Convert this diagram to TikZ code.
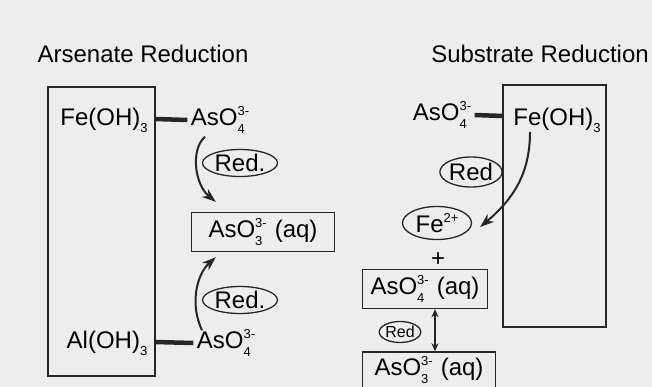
\documentclass[tikz,border=0pt]{standalone}
\usepackage{fontspec}
\setmainfont{Liberation Sans}
\usetikzlibrary{shapes.geometric,arrows.meta}
\newcommand{\subsup}[2]{\rlap{\raisebox{-0.3em}{\fontsize{13}{13}\selectfont#1}}\raisebox{0.42em}{\fontsize{13}{13}\selectfont#2}}
\newcommand{\sbs}[1]{\raisebox{-0.3em}{\fontsize{13}{13}\selectfont#1}}

\begin{document}
\begin{tikzpicture}[x=1pt,y=-1pt,font=\fontsize{24}{28}\selectfont,
  frame/.style={draw=black!85,line width=1.7pt},
  spec/.style={draw=black!85,line width=1.4pt,inner sep=3pt},
  redox/.style={ellipse,draw=black!85,line width=1.3pt,inner sep=0pt,minimum width=#1,minimum height=27pt},
  bond/.style={draw=black!85,line width=4.5pt},
  flow/.style={draw=black!85,line width=2pt,-{Stealth[length=14pt,width=10pt]}}]
        \useasboundingbox[fill=black!7] (0,0) rectangle (652,387);

{\node (tA) at (143,54) {Arsenate Reduction};}
{\node (tS) at (540,54) {Substrate Reduction};}

\draw[frame] (48,87) rectangle (155,376);
{\node (feA) at (104,120) {Fe(OH)\sbs{3}};}
{\node (alA) at (107,343) {Al(OH)\sbs{3}};}
{\node (asA) at (220,120) {AsO\subsup{4}{3-}};}
{\node (asB) at (226,343) {AsO\subsup{4}{3-}};}
{\node[redox=75pt] (rdA) at (240,163) {Red.};}
{\node[redox=75pt] (rdB) at (240,300) {Red.};}
{\node[spec,minimum width=143pt,minimum height=39pt] (aqA) at (263,232) {AsO\subsup{3}{3-}\,\,(aq)};}

\draw[bond] (155,119) -- (asA.west);
\draw[bond] (155,342) -- (asB.west);
\draw[flow] ([xshift=-15pt]asA.south) .. controls (190,150) and (195,185) .. ([xshift=25pt,yshift=10pt]aqA.north west);
\draw[flow] ([xshift=-24pt,yshift=-4pt]asB.north) .. controls (190,305) and (196,275) .. ([xshift=25pt,yshift=-5pt]aqA.south west);

\draw[frame] (503,85) rectangle (606,327);
{\node (feS) at (557,120) {Fe(OH)\sbs{3}};}
{\node (asS) at (442,115) {AsO\subsup{4}{3-}};}
{\node[redox=58pt,minimum height=30pt] (rdS) at (471,172) {Red};}
{\node[redox=69pt,minimum height=33pt] (fe2) at (437,223) {Fe\raisebox{0.42em}{\fontsize{13}{13}\selectfont 2+}};}
{\node (plus) at (438,260) {+};}
{\node[spec,minimum width=125pt,minimum height=39pt] (aq4) at (425,289) {AsO\subsup{4}{3-}\,\,(aq)};}
{\node[redox=40pt,minimum height=21pt,font=\fontsize{16}{18}\selectfont] (rdT) at (400,332) {Red};}
{\node[spec,minimum width=133pt,minimum height=36pt] (aq3) at (429,370) {AsO\subsup{3}{3-}\,\,(aq)};}

\draw[bond] (asS.east) -- (503,116);
\draw[flow] ([xshift=-27pt,yshift=4pt]feS.south) .. controls (530,175) and (512,200) .. ([xshift=8pt,yshift=-4pt]fe2.east);
\draw[draw=black!85,line width=1.6pt,{Stealth[length=8pt,width=7pt]}-{Stealth[length=8pt,width=7pt]}] ([xshift=10pt]aq4.south) -- ([xshift=6pt]aq3.north);

\end{tikzpicture}
\end{document}
